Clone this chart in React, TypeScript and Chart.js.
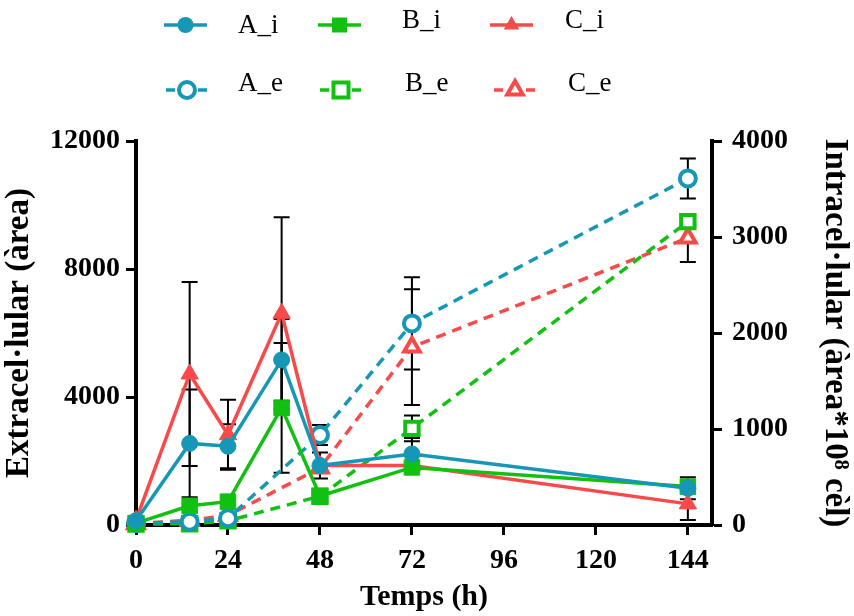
import React, { useEffect, useRef } from 'react';
import { Chart, registerables } from 'chart.js';

Chart.register(...registerables);

// ---- data ----
const hoursI = [0, 14, 24, 38, 48, 72, 144];
const hoursE = [0, 14, 24, 48, 72, 144];
const xTicks = [0, 24, 48, 72, 96, 120, 144];
const leftTicks = [0, 4000, 8000, 12000];
const rightTicks = [0, 1000, 2000, 3000, 4000];

// intracellular (right axis)
const A_i = [45, 850, 820, 1720, 620, 740, 382];
const B_i = [20, 200, 243, 1220, 302, 600, 400];
const C_i = [50, 1573, 940, 2205, 620, 620, 220];
const A_i_err = [0, 562, 229, 427, 135, 167, 115];
const B_i_err = [0, 0, 0, 677, 0, 0, 0];
const C_i_err = [0, 958, 365, 1000, 0, 0, 167];

// extracellular (left axis)
const A_e = [60, 100, 210, 2810, 6300, 10830];
const B_e = [30, 40, 130, 900, 3020, 9480];
const C_e = [40, 150, 300, 1780, 5560, 8970];
const A_e_err = [0, 0, 0, 312, 1440, 625];
const B_e_err = [0, 0, 0, 0, 400, 0];
const C_e_err = [0, 0, 0, 0, 1810, 750];

const BLUE = '#1597b5';
const GREEN = '#12c012';
const RED = '#f84a4a';
const FONT = "'Liberation Serif', 'Times New Roman', serif";

type Mk = 'circle' | 'rect' | 'triangle';

function drawMarker(ctx: CanvasRenderingContext2D, style: Mk, x: number, y: number, color: string, open: boolean) {
  ctx.save();
  ctx.beginPath();
  if (style === 'circle') {
    ctx.arc(x, y, 8, 0, Math.PI * 2);
  } else if (style === 'rect') {
    ctx.rect(x - 7.5, y - 7.5, 15, 15);
  } else {
    const r = 9;
    ctx.moveTo(x, y - r);
    ctx.lineTo(x + r * Math.sin(Math.PI / 3), y + r / 2);
    ctx.lineTo(x - r * Math.sin(Math.PI / 3), y + r / 2);
    ctx.closePath();
  }
  ctx.setLineDash([]);
  if (open) {
    ctx.fillStyle = '#fff';
    ctx.fill();
    ctx.lineWidth = 4;
    ctx.strokeStyle = color;
    ctx.stroke();
  } else {
    ctx.fillStyle = color;
    ctx.fill();
  }
  ctx.restore();
}

const legendItems = [
  { label: 'A_i', color: BLUE, style: 'circle' as Mk, open: false, x1: 164, x2: 207, y: 25, tx: 238, ty: 26 },
  { label: 'B_i', color: GREEN, style: 'rect' as Mk, open: false, x1: 318, x2: 361, y: 25, tx: 402, ty: 21 },
  { label: 'C_i', color: RED, style: 'triangle' as Mk, open: false, x1: 490, x2: 533, y: 25, tx: 565, ty: 21 },
  { label: 'A_e', color: BLUE, style: 'circle' as Mk, open: true, x1: 166, x2: 208, y: 90, tx: 238, ty: 84 },
  { label: 'B_e', color: GREEN, style: 'rect' as Mk, open: true, x1: 320, x2: 362, y: 90, tx: 405, ty: 84 },
  { label: 'C_e', color: RED, style: 'triangle' as Mk, open: true, x1: 494, x2: 536, y: 90, tx: 568, ty: 84 },
];

const legendPlugin = {
  id: 'customLegend',
  afterDraw(chart: any) {
    const ctx: CanvasRenderingContext2D = chart.ctx;
    ctx.save();
    legendItems.forEach((it) => {
      ctx.beginPath();
      ctx.strokeStyle = it.color;
      ctx.lineWidth = 3.5;
      ctx.setLineDash(it.open ? [9, 7] : []);
      ctx.moveTo(it.x1, it.y);
      ctx.lineTo(it.x2, it.y);
      ctx.stroke();
      drawMarker(ctx, it.style, (it.x1 + it.x2) / 2, it.y, it.color, it.open);
      ctx.fillStyle = '#000';
      ctx.font = `27px ${FONT}`;
      ctx.textBaseline = 'middle';
      ctx.textAlign = 'left';
      ctx.fillText(it.label, it.tx, it.ty);
    });
    ctx.restore();
  },
};

const errorBarPlugin = {
  id: 'errorBars',
  beforeDatasetsDraw(chart: any) {
    const ctx: CanvasRenderingContext2D = chart.ctx;
    const xs = chart.scales.x;
    ctx.save();
    ctx.strokeStyle = '#000';
    ctx.lineWidth = 2;
    ctx.setLineDash([]);
    chart.data.datasets.forEach((ds: any) => {
      const ys = chart.scales[ds.yAxisID];
      const errs: number[] = ds.errorBars || [];
      ds.data.forEach((p: any, i: number) => {
        const e = errs[i];
        if (!e) return;
        const x = xs.getPixelForValue(p.x);
        const yt = ys.getPixelForValue(p.y + e);
        const yb = ys.getPixelForValue(Math.max(0, p.y - e));
        ctx.beginPath();
        ctx.moveTo(x, yt);
        ctx.lineTo(x, yb);
        ctx.moveTo(x - 8, yt);
        ctx.lineTo(x + 8, yt);
        ctx.moveTo(x - 8, yb);
        ctx.lineTo(x + 8, yb);
        ctx.stroke();
      });
    });
    ctx.restore();
  },
};

function mkSolid(label: string, ys: number[], errs: number[], color: string, style: Mk) {
  return {
    label,
    data: hoursI.map((x, i) => ({ x, y: ys[i] })),
    yAxisID: 'y1',
    borderColor: color,
    backgroundColor: color,
    borderWidth: 3.5,
    pointStyle: style,
    pointRadius: style === 'rect' ? 11 : style === 'triangle' ? 10 : 8,
    pointBackgroundColor: color,
    pointBorderColor: color,
    pointBorderWidth: 1,
    errorBars: errs,
    clip: false,
  };
}

function mkDashed(label: string, ys: number[], errs: number[], color: string, style: Mk) {
  return {
    label,
    data: hoursE.map((x, i) => ({ x, y: ys[i] })),
    yAxisID: 'y',
    borderColor: color,
    backgroundColor: '#fff',
    borderWidth: 3.5,
    borderDash: [10, 7],
    pointStyle: style,
    pointRadius: style === 'rect' ? 9.5 : style === 'triangle' ? 9 : 8,
    pointBackgroundColor: '#fff',
    pointBorderColor: color,
    pointBorderWidth: 4,
    errorBars: errs,
    clip: false,
  };
}

const axisGrid = {
  display: true,
  drawOnChartArea: false,
  drawTicks: true,
  tickLength: 10,
  tickWidth: 3,
  tickColor: '#000',
  color: '#000',
};
const axisBorder = { display: true, color: '#000', width: 4 };
const tickFont = { family: FONT, size: 28, weight: 'bold' as const };
const titleFont = { family: FONT, size: 33, weight: 'bold' as const };
const plain = (v: any) => String(v);

export default function App() {
  const ref = useRef<HTMLCanvasElement | null>(null);
  useEffect(() => {
    if (!ref.current) return;
    const chart = new Chart(ref.current, {
      type: 'line',
      data: {
        datasets: [
          mkSolid('A_i', A_i, A_i_err, BLUE, 'circle'),
          mkSolid('B_i', B_i, B_i_err, GREEN, 'rect'),
          mkSolid('C_i', C_i, C_i_err, RED, 'triangle'),
          mkDashed('A_e', A_e, A_e_err, BLUE, 'circle'),
          mkDashed('B_e', B_e, B_e_err, GREEN, 'rect'),
          mkDashed('C_e', C_e, C_e_err, RED, 'triangle'),
        ] as any,
      },
      options: {
        responsive: false,
        animation: false,
        layout: { padding: { top: 141, left: 0, right: 0, bottom: 0 } },
        plugins: { legend: { display: false }, tooltip: { enabled: false } },
        scales: {
          x: {
            type: 'linear',
            min: 0,
            max: 150.3,
            afterBuildTicks: (s: any) => { s.ticks = xTicks.map((v) => ({ value: v })); },
            afterFit: (s: any) => { s.height = 91; },
            grid: axisGrid,
            border: axisBorder,
            ticks: { color: '#000', font: tickFont, padding: 9, maxRotation: 0, autoSkip: false, callback: plain },
            title: { display: true, text: 'Temps (h)', color: '#000', font: { family: FONT, size: 30, weight: 'bold' }, padding: { top: 0, bottom: 1 } },
          },
          y: {
            type: 'linear',
            position: 'left',
            min: 0,
            max: 12000,
            afterBuildTicks: (s: any) => { s.ticks = leftTicks.map((v) => ({ value: v })); },
            afterFit: (s: any) => { s.width = 136; },
            grid: axisGrid,
            border: axisBorder,
            ticks: { color: '#000', font: tickFont, padding: 6, callback: plain },
            title: { display: true, text: 'Extracel·lular (àrea)', color: '#000', font: titleFont, padding: { top: 0, bottom: 8 } },
          },
          y1: {
            type: 'linear',
            position: 'right',
            min: 0,
            max: 4000,
            afterBuildTicks: (s: any) => { s.ticks = rightTicks.map((v) => ({ value: v })); },
            afterFit: (s: any) => { s.width = 142; },
            grid: axisGrid,
            border: axisBorder,
            ticks: { color: '#000', font: tickFont, padding: 10, callback: plain },
            title: { display: true, text: 'Intracel·lular (àrea*10⁸ cèl)', color: '#000', font: titleFont, padding: { top: 0, bottom: 0 } },
          },
        },
      } as any,
      plugins: [errorBarPlugin, legendPlugin],
    });
    return () => chart.destroy();
  }, []);
  return (
    <div style={{ position: 'absolute', left: 0, top: 0, width: 854, height: 616, background: '#fff' }}>
      <canvas ref={ref} width={854} height={616} />
    </div>
  );
}
